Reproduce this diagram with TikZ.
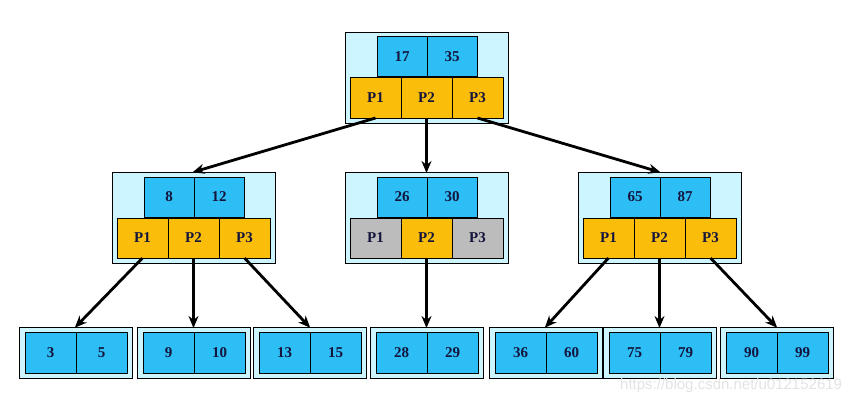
\documentclass[tikz,border=0pt]{standalone}
\usepackage{fontspec}
\setmainfont{Liberation Serif}
\newfontfamily\wmfont{Liberation Sans}
\usetikzlibrary{arrows.meta}
\definecolor{bgcyan}{RGB}{204,245,255}
\definecolor{keyblue}{RGB}{45,190,245}
\definecolor{ptrgold}{RGB}{250,190,10}
\definecolor{ptrgray}{RGB}{188,188,188}
\definecolor{txtnavy}{RGB}{20,20,60}
\definecolor{wmgray}{RGB}{228,228,228}
\tikzset{
  outerbox/.style={draw=black, line width=0.9pt, fill=bgcyan, inner sep=0pt, outer sep=0pt, anchor=north west},
  cellbase/.style={draw=black, line width=1pt, inner sep=0pt, outer sep=0pt, anchor=north west,
     font=\fontsize{15}{15}\selectfont\bfseries, text=txtnavy},
  keycell/.style={cellbase, fill=keyblue, minimum width=50pt, minimum height=40pt},
  ptrcell/.style={cellbase, fill=ptrgold, minimum width=51pt, minimum height=40pt},
  grycell/.style={cellbase, fill=ptrgray, minimum width=51pt, minimum height=40pt},
  leafcell/.style={cellbase, fill=keyblue, minimum width=51pt, minimum height=41pt},
  link/.style={line width=2.8pt, black, -{Stealth[length=12pt,width=10pt]}, shorten >=-1pt}
}
% internal node: name, left x, top y, key1, key2, style p1, style p2, style p3
\newcommand\bnode[8]{%
  \node[outerbox, minimum width=163pt, minimum height=91pt] (#1) at (#2,#3) {};
  \node[keycell] (#1k1) at (#2+32,#3+5) {#4};
  \node[keycell] (#1k2) at (#2+82,#3+5) {#5};
  \node[#6] (#1p1) at (#2+5,#3+46) {P1};
  \node[#7] (#1p2) at (#2+56,#3+46) {P2};
  \node[#8] (#1p3) at (#2+107,#3+46) {P3};
}
% leaf node: name, left x, top y, key1, key2
\newcommand\leafnode[5]{%
  \node[outerbox, minimum width=113pt, minimum height=51pt] (#1) at (#2,#3) {};
  \node[leafcell] (#1k1) at (#2+6,#3+5) {#4};
  \node[leafcell] (#1k2) at (#2+57,#3+5) {#5};
}
\begin{document}
\begin{tikzpicture}[x=1pt,y=-1pt]
\fill[white] (0,0) rectangle (865,404);
\useasboundingbox (0,0) rectangle (865,404);

\bnode{root}{345}{32}{17}{35}{ptrcell}{ptrcell}{ptrcell}
\bnode{left}{112}{172}{8}{12}{ptrcell}{ptrcell}{ptrcell}
\bnode{mid}{345}{172}{26}{30}{grycell}{ptrcell}{grycell}
\bnode{right}{578}{172}{65}{87}{ptrcell}{ptrcell}{ptrcell}

\leafnode{la}{19}{327}{3}{5}
\leafnode{lb}{137}{327}{9}{10}
\leafnode{lc}{253}{327}{13}{15}
\leafnode{ld}{370}{327}{28}{29}
\leafnode{le}{489}{327}{36}{60}
\leafnode{lf}{603}{327}{75}{79}
\leafnode{lg}{720}{327}{90}{99}

\draw[link] (rootp1.south) -- (left.north);
\draw[link] (rootp2.south) -- (mid.north);
\draw[link] (rootp3.south) -- (right.north);

\draw[link] (leftp1.south) -- (la.north);
\draw[link] (leftp2.south) -- (lb.north);
\draw[link] (leftp3.south) -- (lc.north);
\draw[link] (midp2.south) -- (ld.north);
\draw[link] (rightp1.south) -- (le.north);
\draw[link] (rightp2.south) -- (lf.north);
\draw[link] (rightp3.south) -- (lg.north);

\node[anchor=west, text=wmgray, font=\wmfont\fontsize{15}{15}\selectfont, inner sep=0pt] (wm) at (620,386) {https://blog.csdn.net/u012152619};
\end{tikzpicture}
\end{document}
